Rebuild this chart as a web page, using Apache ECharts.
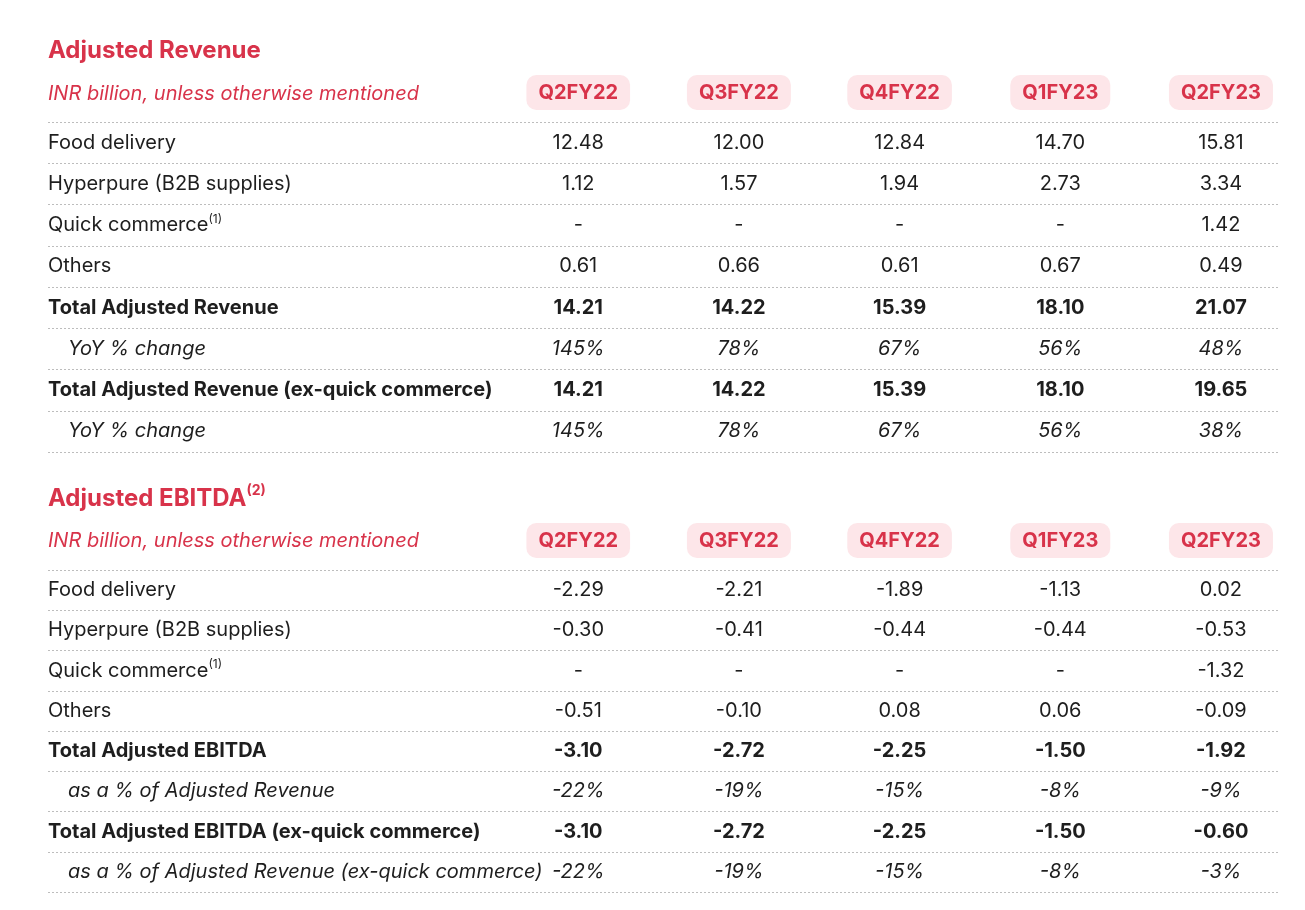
<!DOCTYPE html>
<html><head><meta charset="utf-8">
<script src="https://cdn.jsdelivr.net/npm/echarts@6/dist/echarts.min.js"></script>
<style>html,body{margin:0;padding:0;background:#fff}#c{width:1305px;height:910px}</style>
</head><body><div id="c"></div>
<script>
// ---------- data ----------
const quarters = ['Q2FY22', 'Q3FY22', 'Q4FY22', 'Q1FY23', 'Q2FY23'];

const revRows = ['Food delivery', 'Hyperpure (B2B supplies)', 'Quick commerce', 'Others',
  'Total Adjusted Revenue', 'YoY % change', 'Total Adjusted Revenue (ex-quick commerce)', 'YoY % change'];
const revFood = [12.48, 12.00, 12.84, 14.70, 15.81];
const revHyperpure = [1.12, 1.57, 1.94, 2.73, 3.34];
const revQuick = [null, null, null, null, 1.42];
const revOthers = [0.61, 0.66, 0.61, 0.67, 0.49];
const revTotal = [14.21, 14.22, 15.39, 18.10, 21.07];
const revYoY = [145, 78, 67, 56, 48];
const revTotalEx = [14.21, 14.22, 15.39, 18.10, 19.65];
const revYoYEx = [145, 78, 67, 56, 38];

const ebRows = ['Food delivery', 'Hyperpure (B2B supplies)', 'Quick commerce', 'Others',
  'Total Adjusted EBITDA', 'as a % of Adjusted Revenue', 'Total Adjusted EBITDA (ex-quick commerce)',
  'as a % of Adjusted Revenue (ex-quick commerce)'];
const ebFood = [-2.29, -2.21, -1.89, -1.13, 0.02];
const ebHyperpure = [-0.30, -0.41, -0.44, -0.44, -0.53];
const ebQuick = [null, null, null, null, -1.32];
const ebOthers = [-0.51, -0.10, 0.08, 0.06, -0.09];
const ebTotal = [-3.10, -2.72, -2.25, -1.50, -1.92];
const ebPct = [-22, -19, -15, -8, -9];
const ebTotalEx = [-3.10, -2.72, -2.25, -1.50, -0.60];
const ebPctEx = [-22, -19, -15, -8, -3];

// ---------- table structure ----------
const revValues = [revFood, revHyperpure, revQuick, revOthers, revTotal, revYoY, revTotalEx, revYoYEx];
const ebValues = [ebFood, ebHyperpure, ebQuick, ebOthers, ebTotal, ebPct, ebTotalEx, ebPctEx];
const rowKind = ['n', 'n', 'n', 'n', 'b', 'i', 'b', 'i'];
const rowFmt = ['num', 'num', 'num', 'num', 'num', 'pct', 'num', 'pct'];
const rowNote = { 2: '(1)' };

// ---------- style ----------
const FONT = 'Inter';
const RED = '#d8334a';
const INK = '#1e1e1e';
const PILL = '#fde6e9';
const FS = 20;
const XMIN = -3.3, XMAX = 4.355;

function fmt(v, kind) {
  if (v === null) return '-';
  return kind === 'pct' ? v + '%' : v.toFixed(2);
}

const rich = {
  n: { fontFamily: FONT, fontSize: FS, color: INK, lineHeight: 24 },
  b: { fontFamily: FONT, fontSize: FS, color: INK, fontWeight: 'bold', lineHeight: 24 },
  i: { fontFamily: FONT, fontSize: FS, color: INK, fontStyle: 'italic', lineHeight: 24, padding: [0, 0, 0, 20] },
  s: { fontFamily: FONT, fontSize: 12, color: INK, lineHeight: 13, verticalAlign: 'top' }
};

function makeCells(values, gridIdx) {
  const data = [];
  values.forEach((arr, r) => {
    arr.forEach((v, c) => {
      const k = rowKind[r];
      data.push({
        name: fmt(v, rowFmt[r]),
        value: [c, r],
        label: {
          fontWeight: k === 'b' ? 'bold' : 'normal',
          fontStyle: k === 'i' ? 'italic' : 'normal'
        }
      });
    });
  });
  return {
    type: 'scatter', xAxisIndex: gridIdx, yAxisIndex: gridIdx,
    symbolSize: 0, silent: true, data: data,
    itemStyle: { opacity: 1 },
    label: { show: true, position: 'inside', formatter: '{b}', fontFamily: FONT, fontSize: FS, color: INK, opacity: 1 }
  };
}

function xAx(gridIdx) {
  return {
    type: 'value', gridIndex: gridIdx, position: 'top', min: XMIN, max: XMAX,
    axisLine: { show: false }, axisTick: { show: false }, splitLine: { show: false },
    axisLabel: {
      customValues: quarters.map((q, i) => i),
      formatter: v => quarters[Math.round(v)],
      margin: 12, fontFamily: FONT, fontSize: FS, fontWeight: 'bold', color: RED,
      backgroundColor: PILL, borderRadius: 10, padding: [8, 12, 7, 12]
    }
  };
}

function yAx(gridIdx, rows) {
  return {
    type: 'category', gridIndex: gridIdx, inverse: true, data: rows,
    axisLine: { show: false }, axisTick: { show: false },
    splitLine: { show: true, lineStyle: { color: '#bdbdbd', type: [2, 2], width: 1 } },
    axisLabel: {
      inside: true, margin: 0, align: 'left',
      formatter: (v, idx) => {
        const k = rowKind[idx];
        return '{' + k + '|' + v + '}' + (rowNote[idx] ? '{s|' + rowNote[idx] + '}' : '');
      },
      rich: rich
    }
  };
}

const option = {
  animation: false,
  backgroundColor: '#fff',
  title: [
    { text: 'Adjusted Revenue', left: 48, top: 39, padding: 0,
      textStyle: { fontFamily: FONT, fontSize: 24, fontWeight: 'bold', color: RED } },
    { text: 'INR billion, unless otherwise mentioned', left: 48, top: 84, padding: 0,
      textStyle: { fontFamily: FONT, fontSize: 20, fontStyle: 'italic', fontWeight: 'normal', color: RED } },
    { text: '{t|Adjusted EBITDA}{s|(2)}', left: 48, top: 484, padding: 0,
      textStyle: { rich: {
        t: { fontFamily: FONT, fontSize: 24, fontWeight: 'bold', color: RED, lineHeight: 29 },
        s: { fontFamily: FONT, fontSize: 14, fontWeight: 'bold', color: RED, lineHeight: 15, verticalAlign: 'top' } } } },
    { text: 'INR billion, unless otherwise mentioned', left: 48, top: 531, padding: 0,
      textStyle: { fontFamily: FONT, fontSize: 20, fontStyle: 'italic', fontWeight: 'normal', color: RED } }
  ],
  grid: [
    { left: 48, right: 27, top: 122, height: 330, outerBoundsMode: 'none' },
    { left: 48, right: 27, top: 570, height: 322, outerBoundsMode: 'none' }
  ],
  xAxis: [xAx(0), xAx(1)],
  yAxis: [yAx(0, revRows), yAx(1, ebRows)],
  series: [makeCells(revValues, 0), makeCells(ebValues, 1)]
};

const chart = echarts.init(document.getElementById('c'), null, { renderer: 'canvas' });
chart.setOption(option);
</script>
</body></html>
